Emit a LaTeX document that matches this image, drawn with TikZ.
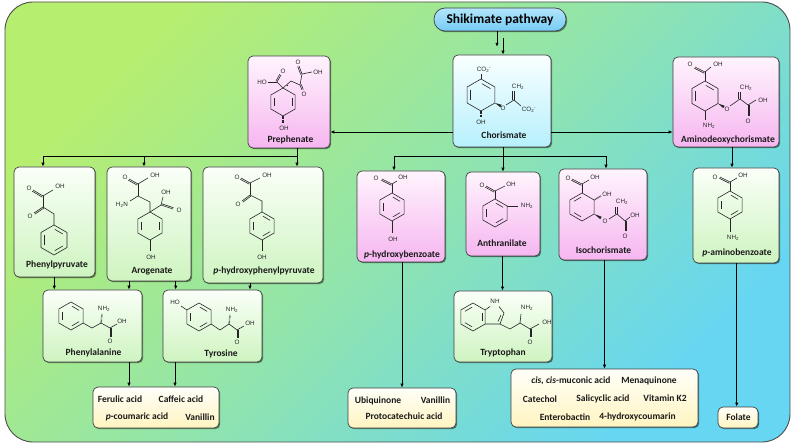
\documentclass[tikz,border=0pt]{standalone}
\usepackage{fontspec}
\setmainfont{Carlito}
\newfontfamily\chemf{Liberation Sans}
\usetikzlibrary{arrows.meta,calc,shadows}
\definecolor{pinkT}{RGB}{255,244,253}
\definecolor{pinkB}{RGB}{246,182,240}
\definecolor{greenT}{RGB}{250,255,248}
\definecolor{greenB}{RGB}{206,244,192}
\definecolor{cyanT}{RGB}{250,255,255}
\definecolor{cyanB}{RGB}{182,240,252}
\definecolor{yelT}{RGB}{255,255,250}
\definecolor{yelB}{RGB}{255,244,192}
\definecolor{shT}{RGB}{178,229,250}
\definecolor{shB}{RGB}{118,204,245}
\definecolor{bgA}{RGB}{182,238,112}
\definecolor{bgM}{RGB}{145,228,172}
\definecolor{bgB}{RGB}{102,214,242}
\tikzset{
  bond/.style={line width=0.6pt, draw=black!85},
  atom/.style={font=\chemf\fontsize{6.3}{6.3}\selectfont, text=black!85, inner sep=0.2pt},
  box/.style={draw=black!75, line width=0.7pt, rounded corners=5pt, inner sep=0pt,
    drop shadow={shadow xshift=1.2pt,shadow yshift=-1.2pt,opacity=0.45,fill=black}},
  pinkbox/.style={box, top color=pinkT, bottom color=pinkB},
  greenbox/.style={box, top color=greenT, bottom color=greenB},
  cyanbox/.style={box, top color=cyanT, bottom color=cyanB},
  yelbox/.style={box, top color=yelT, bottom color=yelB},
  lbl/.style={font=\bfseries\fontsize{9.5}{10}\selectfont, inner sep=0pt, text=black!90},
  arr/.style={line width=0.8pt, -{Latex[length=4pt,width=3.4pt]}},
  conn/.style={line width=0.8pt},
}
\newcommand{\hexa}[3]{\draw[bond] (#1,#2) +(-90:#3) -- +(-30:#3) -- +(30:#3) -- +(90:#3) -- +(150:#3) -- +(210:#3) -- cycle;}
\newcommand{\inb}[5]{\draw[bond,shorten <=1pt,shorten >=1pt] (#1,#2) +(#4:{0.74*#3}) -- +(#5:{0.74*#3});}
\newcommand{\benz}[3]{\hexa{#1}{#2}{#3}\inb{#1}{#2}{#3}{-90}{-30}\inb{#1}{#2}{#3}{30}{90}\inb{#1}{#2}{#3}{150}{210}}
\newcommand{\dbond}[2]{\draw[bond] #1 -- #2; \draw[bond] ($#1!1.4pt!90:#2$) -- ($#2!1.4pt!-90:#1$);}
\newcommand{\wdg}[2]{\fill[black!85] #1 -- ($#2!1.4pt!90:#1$) -- ($#2!1.4pt!-90:#1$) -- cycle;}
\newcommand{\hsh}[2]{\draw[black!85, line width=1.5pt, dash pattern=on 0.45pt off 0.8pt] #1 -- #2;}
\newcommand{\atm}[4]{\node[atom] (#1) at (#2,#3) {#4};}
\newcommand{\bx}[6]{\node[#1, minimum width=#5pt, minimum height=#6pt] (#2) at (#3,#4) {};}
\begin{document}
\begin{tikzpicture}[x=1pt,y=-1pt]
\useasboundingbox (0,0) rectangle (798,446);
% background frame
\draw[draw=black!70, line width=0.9pt, rounded corners=28pt, top color=bgA, bottom color=bgB, middle color=bgM, shading angle=45] (5,2) rectangle (790,442);

% boxes
\node[box, rounded corners=11pt, top color=shT, bottom color=shB, minimum width=132pt, minimum height=23pt, font=\bfseries\fontsize{13.5}{14}\selectfont] (shik) at (500,19.5) {Shikimate pathway};
\bx{cyanbox}{chor}{502}{101}{98}{92}
\bx{pinkbox}{prep}{289}{102}{82}{92}
\bx{pinkbox}{adc}{726}{102}{106}{90}
\bx{greenbox}{phpyr}{54.5}{222}{81}{110}
\bx{greenbox}{arog}{149}{224}{84}{114}
\bx{greenbox}{hpp}{263}{225}{120}{116}
\bx{pinkbox}{phba}{401}{216.5}{88}{91}
\bx{pinkbox}{anth}{503}{214}{74}{84}
\bx{pinkbox}{iso}{603}{214.5}{88}{91}
\bx{greenbox}{pab}{736}{215.5}{86}{95}
\bx{greenbox}{phe}{92.5}{326}{99}{72}
\bx{greenbox}{tyr}{212.5}{326}{99}{72}
\bx{greenbox}{trp}{503}{326.5}{98}{71}
\bx{yelbox}{fer}{156}{407.5}{126}{41}
\bx{yelbox}{ubi}{402}{408}{108}{40}
\bx{yelbox}{isop}{604.5}{398}{187}{58}
\bx{yelbox}{fol}{738}{417.5}{40}{21}

% box labels
\node[lbl] (Lchor) at (504,135) {Chorismate};
\node[lbl] (Lprep) at (290.5,140) {Prephenate};
\node[lbl] (Ladc) at (728,140) {Aminodeoxychorismate};
\node[lbl] (Lphpyr) at (57,265) {Phenylpyruvate};
\node[lbl] (Larog) at (152,271) {Arogenate};
\node[lbl] (Lhpp) at (264,271) {\textit{p}-hydroxyphenylpyruvate};
\node[lbl] (Lphba) at (402,255) {\textit{p}-hydroxybenzoate};
\node[lbl] (Lanth) at (502,243) {Anthranilate};
\node[lbl] (Liso) at (603.5,250) {Isochorismate};
\node[lbl] (Lpab) at (737,252.7) {\textit{p}-aminobenzoate};
\node[lbl] (Lphe) at (93.5,352.7) {Phenylalanine};
\node[lbl] (Ltyr) at (221,354) {Tyrosine};
\node[lbl] (Ltrp) at (503,352.7) {Tryptophan};

% product texts
\node[lbl] (p1) at (120,399) {Ferulic acid};
\node[lbl] (p2) at (181,399) {Caffeic acid};
\node[lbl] (p3) at (137,417) {\textit{p}-coumaric acid};
\node[lbl] (p4) at (200,417) {Vanillin};
\node[lbl] (p5) at (378,400.7) {Ubiquinone};
\node[lbl] (p6) at (435.5,400.7) {Vanillin};
\node[lbl] (p7) at (404,416.7) {Protocatechuic acid};
\node[lbl] (p8) at (571,380.7) {\textit{cis, cis}-muconic acid};
\node[lbl] (p9) at (649,380.7) {Menaquinone};
\node[lbl] (p10) at (540,399) {Catechol};
\node[lbl] (p11) at (603,399) {Salicyclic acid};
\node[lbl] (p12) at (665,398) {Vitamin K2};
\node[lbl] (p13) at (565,416.7) {Enterobactin};
\node[lbl] (p14) at (637.5,416.7) {4-hydroxycoumarin};
\node[lbl] (p15) at (738.5,417.7) {Folate};

% connectors
\coordinate (s1) at ([xshift=-3pt]shik.south);
\coordinate (s1e) at ($(s1)+(0,15.5)$);
\draw[arr] (s1) -- (s1e);
\coordinate (s2) at (503,38);
\draw[arr] (s2) -- (s2 |- chor.north);
\coordinate (h1) at (0,132);
\draw[arr] (chor.west |- h1) -- (prep.east |- h1);
\draw[arr] (chor.east |- h1) -- (adc.west |- h1);
% prephenate bus
\coordinate (pb) at ([xshift=8pt]prep.south);
\coordinate (pj) at (297,156);
\coordinate (pL) at (43,156);
\coordinate (pM) at (144,156);
\draw[conn] (pb) -- (pj);
\draw[arr] (pj) -- (pL) -- (pL |- phpyr.north);
\draw[arr] (pM) -- (pM |- arog.north);
\draw[arr] (pj) -- (pj |- hpp.north);
% chorismate bus
\coordinate (cj) at (503,156);
\coordinate (cL) at (394,156);
\coordinate (cR) at (606,156);
\draw[conn] (chor.south -| cj) -- (cj);
\draw[arr] (cj) -- (cL) -- (cL |- phba.north);
\draw[arr] (cj) -- (cR) -- (cR |- iso.north);
\draw[arr] (cj) -- (cj |- anth.north);
% aminodeoxychorismate
\coordinate (xa) at (732,0);
\draw[arr] (adc.south -| xa) -- (pab.north -| xa);
% second row to third row
\coordinate (x1) at (54.3,0);
\coordinate (x2) at (129,0);
\coordinate (x3) at (175.7,0);
\coordinate (x4) at (250,0);
\draw[arr] (phpyr.south -| x1) -- (phe.north -| x1);
\draw[arr] (arog.south -| x2) -- (phe.north -| x2);
\draw[arr] (arog.south -| x3) -- (tyr.north -| x3);
\draw[arr] (hpp.south -| x4) -- (tyr.north -| x4);
\coordinate (x5) at (129,0);
\coordinate (x6) at (175,0);
\draw[arr] (phe.south -| x5) -- (fer.north -| x5);
\draw[arr] (tyr.south -| x6) -- (fer.north -| x6);
\coordinate (x7) at (402,0);
\coordinate (x8) at (502.5,0);
\coordinate (x9) at (604.5,0);
\coordinate (x10) at (736.7,0);
\draw[arr] (phba.south -| x7) -- (ubi.north -| x7);
\draw[arr] (anth.south -| x8) -- (trp.north -| x8);
\draw[arr] (iso.south -| x9) -- (isop.north -| x9);
\draw[arr] (pab.south -| x10) -- (fol.north -| x10);

% ---------- structures ----------
% Prephenate
\hexa{283}{102}{14}
\inb{283}{102}{14}{150}{210}
\inb{283}{102}{14}{-30}{30}
\hsh{(283,116)}{(283,123)}
\atm{a1}{284}{128}{OH}
\draw[bond] (283,88) -- (277,82);
\draw[bond] (277,82) -- (268,82);
\atm{a2}{262}{82}{HO}
\dbond{(277,82)}{(281,75)}
\atm{a3}{283}{71}{O}
\draw[bond] (283,88) -- (291,81) -- (300,85);
\fill[black!85] (287.5,85.5) circle (0.6pt);
\dbond{(300,85)}{(302,90)}
\atm{a4}{304}{94}{O}
\draw[bond] (300,85) -- (302,74);
\dbond{(302,74)}{(299,66)}
\atm{a5}{298}{62}{O}
\draw[bond] (302,74) -- (312,72);
\atm{a6}{318}{72}{OH}

% Chorismate
\hexa{481}{95}{16}
\inb{481}{95}{16}{-90}{-30}
\inb{481}{95}{16}{150}{210}
\draw[bond] (481,79) -- (481,74);
\atm{b1}{484}{70}{CO\textsubscript{2}\textsuperscript{-}}
\hsh{(481,111)}{(481,117)}
\atm{b2}{481}{122}{OH}
\wdg{(494.9,103)}{(501,106)}
\atm{b3}{503}{108}{O}
\draw[bond] (506,105) -- (514,100);
\dbond{(514,100)}{(514,91)}
\atm{b4}{518}{87}{CH\textsubscript{2}}
\draw[bond] (514,100) -- (521,106);
\atm{b5}{529}{110}{CO\textsubscript{2}\textsuperscript{-}}

% Aminodeoxychorismate
\hexa{705}{96}{15}
\inb{705}{96}{15}{-90}{-30}
\inb{705}{96}{15}{150}{210}
\draw[bond] (705,81) -- (705,72);
\dbond{(705,72)}{(695,67)}
\atm{c1}{690}{64}{O}
\draw[bond] (705,72) -- (711,67);
\atm{c2}{718}{64}{OH}
\draw[bond] (705,111) -- (705,120);
\atm{c3}{709}{126}{NH\textsubscript{2}}
\wdg{(718,103.5)}{(724,107)}
\atm{c4}{727}{109}{O}
\draw[bond] (730,106) -- (740,99);
\dbond{(740,99)}{(740,92)}
\atm{c5}{746}{88}{CH\textsubscript{2}}
\draw[bond] (740,99) -- (748,105);
\draw[bond] (748,105) -- (756,100);
\atm{c6}{763}{100}{OH}
\dbond{(748,105)}{(748,116)}
\atm{c7}{748}{121}{O}

% Phenylpyruvate
\atm{d1}{29}{188}{O}
\atm{d2}{60}{186}{OH}
\dbond{(43,196)}{(33,190)}
\draw[bond] (43,196) -- (53,190);
\draw[bond] (43,196) -- (43,207);
\dbond{(43,207)}{(34,213)}
\atm{d3}{30}{216}{O}
\draw[bond] (43,207) -- (54,214) -- (54,225);
\benz{54}{240}{15}

% Arogenate
\atm{e1}{125}{177}{O}
\atm{e2}{155}{175}{OH}
\dbond{(138,184)}{(129,179)}
\draw[bond] (138,184) -- (148,178);
\draw[bond] (138,184) -- (138,196);
\draw[bond] (138,196) -- (130,201);
\atm{e3}{122}{205}{H\textsubscript{2}N}
\draw[bond] (138,196) -- (150,202) -- (150,212);
\hexa{150}{226}{14}
\inb{150}{226}{14}{150}{210}
\inb{150}{226}{14}{-30}{30}
\draw[bond] (150,212) -- (161,205);
\draw[bond] (161,205) -- (163,197);
\atm{e4}{166}{192}{OH}
\dbond{(161,205)}{(173,209)}
\atm{e5}{179}{210}{O}
\draw[bond] (150,240) -- (150,251);
\atm{e6}{151}{257}{OH}

% p-hydroxyphenylpyruvate
\atm{f1}{237}{177}{O}
\atm{f2}{267}{175}{OH}
\dbond{(250,183)}{(241,178)}
\draw[bond] (250,183) -- (260,178);
\draw[bond] (250,183) -- (250,195);
\dbond{(250,195)}{(242,201)}
\atm{f3}{238}{204}{O}
\draw[bond] (250,195) -- (262,201) -- (262,212);
\benz{262}{226}{14}
\draw[bond] (262,240) -- (262,251);
\atm{f4}{262}{257}{OH}

% Phenylalanine
\benz{71}{316}{14}
\draw[bond] (83.1,323) -- (92,328) -- (101,323);
\hsh{(101,323)}{(102,314)}
\atm{g1}{104}{309}{NH\textsubscript{2}}
\draw[bond] (101,323) -- (110,328) -- (117,324);
\atm{g2}{122}{321}{OH}
\dbond{(110,328)}{(110,337)}
\atm{g3}{110}{341}{O}

% Tyrosine
\benz{199}{317}{14}
\draw[bond] (186.9,310) -- (181,306);
\atm{h1}{175}{302}{HO}
\draw[bond] (211.1,324) -- (220,330) -- (229,324);
\hsh{(229,324)}{(230,315)}
\atm{h2}{232}{310}{NH\textsubscript{2}}
\draw[bond] (229,324) -- (237,330) -- (244,326);
\atm{h3}{250}{323}{OH}
\dbond{(237,330)}{(237,338)}
\atm{h4}{237}{342}{O}

% p-hydroxybenzoate
\atm{i1}{376}{178}{O}
\atm{i2}{403}{177}{OH}
\dbond{(392,184)}{(382,179)}
\draw[bond] (392,184) -- (397,181);
\draw[bond] (392,184) -- (392,193);
\benz{392}{207}{14}
\draw[bond] (392,221) -- (392,233);
\atm{i3}{393}{239}{OH}

% Anthranilate
\atm{j1}{482}{185}{O}
\atm{j2}{511}{184}{OH}
\dbond{(495,191)}{(486,186)}
\draw[bond] (495,191) -- (505,186);
\draw[bond] (495,191) -- (495,199);
\benz{495}{213}{14}
\draw[bond] (507.1,206) -- (518,206);
\atm{j3}{527}{206}{NH\textsubscript{2}}

% Isochorismate
\atm{k1}{568}{178}{O}
\atm{k2}{595}{177}{OH}
\dbond{(582,184)}{(572,179)}
\draw[bond] (582,184) -- (589,180);
\draw[bond] (582,184) -- (582,193);
\hexa{582}{207}{14}
\inb{582}{207}{14}{-90}{-150}
\inb{582}{207}{14}{150}{90}
\hsh{(594.1,200)}{(601,196)}
\atm{k3}{607}{194}{OH}
\wdg{(594.1,214)}{(601,218)}
\atm{k4}{605}{221}{O}
\draw[bond] (609,219) -- (617,214);
\dbond{(617,214)}{(617,207)}
\atm{k5}{622}{202}{CH\textsubscript{2}}
\draw[bond] (617,214) -- (625,221);
\draw[bond] (625,221) -- (630,217);
\atm{k6}{635}{215}{OH}
\dbond{(625,221)}{(625,231)}
\atm{k7}{625}{236}{O}

% p-aminobenzoate
\atm{l1}{715}{177}{O}
\atm{l2}{743}{175}{OH}
\dbond{(730,182)}{(720,177)}
\draw[bond] (730,182) -- (737,178);
\draw[bond] (730,182) -- (730,191);
\benz{730}{205}{14}
\draw[bond] (730,219) -- (730,232);
\atm{l3}{733}{238}{NH\textsubscript{2}}

% Tryptophan
\hexa{473}{317}{14}
\inb{473}{317}{14}{-150}{-90}
\inb{473}{317}{14}{-30}{30}
\inb{473}{317}{14}{90}{150}
\draw[bond] (485.1,310) -- (490,306.5);
\atm{m1}{495}{301}{NH}
\draw[bond] (499,306.5) -- (504,313) -- (500,324) -- (485.1,324);
\draw[bond] (501,315) -- (498,321.5);
\draw[bond] (500,324) -- (510,329) -- (520,323);
\draw[bond] (520,323) -- (521,314);
\atm{m2}{527}{308}{NH\textsubscript{2}}
\draw[bond] (520,323) -- (530,329) -- (539,324);
\atm{m3}{547}{322}{OH}
\dbond{(530,329)}{(530,337)}
\atm{m4}{530}{342}{O}
\end{tikzpicture}
\end{document}
